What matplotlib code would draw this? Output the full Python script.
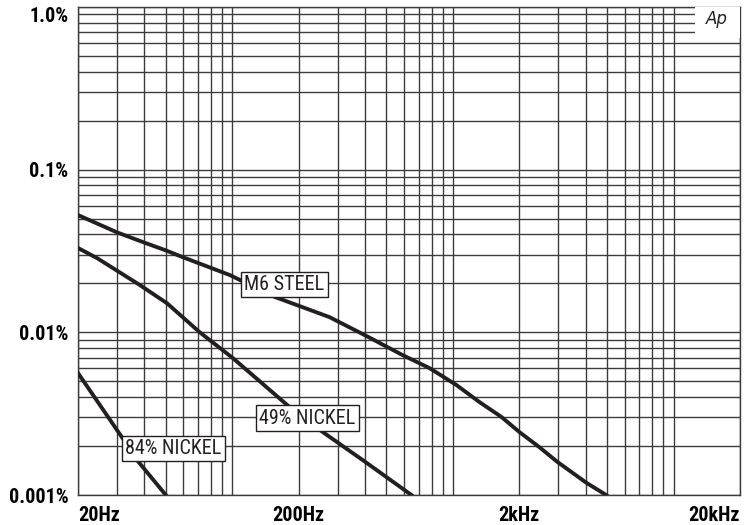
import matplotlib
matplotlib.use('Agg')
import matplotlib.pyplot as plt
from matplotlib import font_manager
from matplotlib.ticker import NullFormatter
from matplotlib.patches import Rectangle

# pick a narrow face if the system has one, else plain Liberation Sans
names = {f.name for f in font_manager.fontManager.ttflist}
narrow = 'Liberation Sans'
for cand in ['Liberation Sans Narrow', 'Roboto Condensed', 'Open Sans Condensed']:
    if cand in names:
        narrow = cand
        break

# curves: frequency in Hz, distortion in %
m6_freq = [20, 30, 40, 50, 60, 97.5, 156, 276, 406, 591, 783, 1038, 1318,
           1659, 2000, 2463, 2971, 4021, 4950]
m6_val = [0.0526, 0.0412, 0.0356, 0.0319, 0.0289, 0.0225, 0.0165, 0.0124,
          0.00949, 0.00725, 0.00603, 0.00474, 0.00373, 0.00302, 0.00244,
          0.00197, 0.00160, 0.00119, 0.001]

n49_freq = [20, 24.4, 38.2, 50.6, 71.3, 100.6, 182, 257, 390, 649]
n49_val = [0.033, 0.0286, 0.0195, 0.0151, 0.0100, 0.00695, 0.00347, 0.00244,
           0.00164, 0.001]

n84_freq = [20, 31.6, 37, 50]
n84_val = [0.00562, 0.00227, 0.00164, 0.001]

curve_labels = ['M6 STEEL', '49% NICKEL', '84% NICKEL']
label_freq = [172, 219, 54]
label_val = [0.0197, 0.00297, 0.00193]

x_ticks = [20, 200, 2000, 20000]
x_ticklabels = ['20Hz', '200Hz', '2kHz', '20kHz']
y_ticks = [0.001, 0.01, 0.1, 1.0]
y_ticklabels = ['0.001%', '0.01%', '0.1%', '1.0%']

grid_col = '#3c3c3c'
ink = '#231f20'

fig = plt.figure(figsize=(7.5, 5.25), dpi=100)
ax = fig.add_axes([0.104, 0.0571, 0.8827, 0.9296])
ax.set_xscale('log')
ax.set_yscale('log')
ax.set_xlim(20, 20000)
ax.set_ylim(0.001, 1.0)

# grid: every 1..9 step in each decade
x_minor = [m * 10 ** k for k in (1, 2, 3) for m in range(2, 11)]
y_minor = [m * 10 ** k for k in (-3, -2, -1) for m in range(1, 10)]
ax.set_xticks(x_ticks)
ax.set_xticks(x_minor, minor=True)
ax.set_yticks(y_ticks)
ax.set_yticks(y_minor, minor=True)
ax.xaxis.set_minor_formatter(NullFormatter())
ax.yaxis.set_minor_formatter(NullFormatter())
ax.grid(True, which='both', color=grid_col, linewidth=1.0)
ax.tick_params(which='both', length=0)

ax.set_xticklabels(x_ticklabels, fontfamily=narrow, fontweight='bold', fontsize=14.5)
ax.set_yticklabels(y_ticklabels, fontfamily=narrow, fontweight='bold', fontsize=14.5)
ax.tick_params(axis='x', pad=8)
ax.tick_params(axis='y', pad=7)
xl = ax.get_xticklabels()
xl[0].set_horizontalalignment('left')
xl[-1].set_horizontalalignment('right')
yl = ax.get_yticklabels()
yl[-1].set_verticalalignment('top')

for s in ax.spines.values():
    s.set_color(grid_col)
    s.set_linewidth(1.0)

ax.plot(m6_freq, m6_val, color=ink, lw=2.8, zorder=3)
ax.plot(n49_freq, n49_val, color=ink, lw=2.8, zorder=3)
ax.plot(n84_freq, n84_val, color=ink, lw=2.8, zorder=3)

for txt, fx, vy in zip(curve_labels, label_freq, label_val):
    ax.text(fx, vy, txt, fontfamily=narrow, fontsize=14.5, color=ink,
            ha='center', va='center', zorder=5,
            bbox=dict(boxstyle='square,pad=0.16', facecolor='white',
                      edgecolor=ink, linewidth=1.0))

# white patch behind the Ap mark in the top right corner
ax.add_patch(Rectangle((0.932, 0.936), 0.068, 0.064, transform=ax.transAxes,
                       facecolor='white', edgecolor='none', zorder=4))
ax.text(0.982, 0.975, 'Ap', transform=ax.transAxes, ha='right', va='center',
        fontsize=12, fontstyle='italic', fontweight='light', color=ink, zorder=5)

fig.savefig('out.png', dpi=100)
